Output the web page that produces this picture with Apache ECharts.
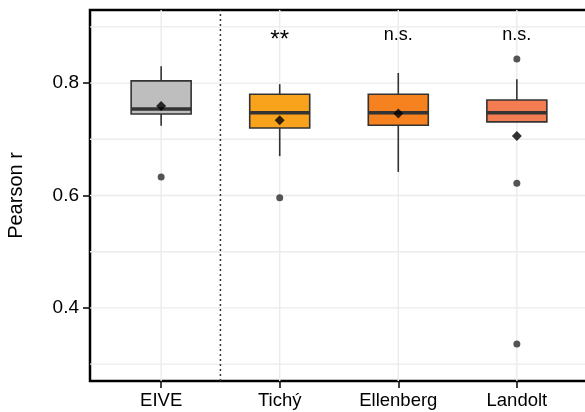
<!DOCTYPE html>
<html>
<head>
<meta charset="utf-8">
<script src="https://cdn.jsdelivr.net/npm/echarts@6/dist/echarts.min.js"></script>
<style>
html,body{margin:0;padding:0;background:#fff;}
#chart{width:585px;height:412px;}
</style>
</head>
<body>
<div id="chart"></div>
<script>
// ---- data ----
const categories = ['EIVE', 'Tichý', 'Ellenberg', 'Landolt'];
const whiskerLow  = [0.724, 0.670, 0.642, 0.731];
const q1          = [0.745, 0.720, 0.725, 0.731];
const median      = [0.754, 0.747, 0.747, 0.747];
const q3          = [0.804, 0.780, 0.780, 0.770];
const whiskerHigh = [0.830, 0.798, 0.818, 0.807];
const means       = [0.759, 0.734, 0.746, 0.706];
const outlierCat  = [0, 1, 3, 3, 3];
const outlierVal  = [0.633, 0.596, 0.843, 0.622, 0.336];
const significance = ['', '**', 'n.s.', 'n.s.'];
const yTickValues = [0.4, 0.6, 0.8];
const yGridValues = [0.3, 0.4, 0.5, 0.6, 0.7, 0.8, 0.9];
const xTickValues = [1, 2, 3, 4];
const fills = ['#BEBEBE', '#F8A31B', '#F5821F', '#F47C52'];

const FONT = "'Liberation Sans', Arial, sans-serif";
const X_MIN = 0.4, X_MAX = 4.6, Y_MIN = 0.27, Y_MAX = 0.93;

const chart = echarts.init(document.getElementById('chart'), null, {renderer: 'canvas'});

const gridData = yGridValues.map(v => ['h', v]).concat(xTickValues.map(v => ['v', v]));

const option = {
  animation: false,
  backgroundColor: '#ffffff',
  grid: {
    left: 90, top: 10, width: 498, height: 371,
    outerBoundsMode: 'none', containLabel: false,
    show: true, borderColor: '#000', borderWidth: 2.5, backgroundColor: 'transparent'
  },
  xAxis: {
    type: 'value', min: X_MIN, max: X_MAX,
    axisLine: {show: false},
    splitLine: {show: false},
    axisTick: {show: true, customValues: xTickValues, length: 7, lineStyle: {color: '#111', width: 1.6}},
    axisLabel: {
      customValues: xTickValues, margin: 10,
      fontFamily: FONT, fontSize: 18.5, color: '#000',
      formatter: v => categories[Math.round(v) - 1] || ''
    }
  },
  yAxis: {
    type: 'value', min: Y_MIN, max: Y_MAX,
    name: 'Pearson r', nameLocation: 'middle', nameGap: 64, nameRotate: 90,
    nameTextStyle: {fontFamily: FONT, fontSize: 20, color: '#000'},
    axisLine: {show: false},
    splitLine: {show: false},
    axisTick: {show: true, customValues: yTickValues, length: 7, lineStyle: {color: '#111', width: 1.6}},
    axisLabel: {
      customValues: yTickValues, margin: 11,
      fontFamily: FONT, fontSize: 19, color: '#000',
      formatter: v => v.toFixed(1)
    }
  },
  series: [
    {
      type: 'custom', silent: true, z: 0,
      data: gridData,
      encode: {x: [], y: []},
      renderItem: function (params, api) {
        const kind = gridData[params.dataIndex][0];
        const v = gridData[params.dataIndex][1];
        let p1, p2;
        if (kind === 'h') { p1 = api.coord([X_MIN, v]); p2 = api.coord([X_MAX, v]); }
        else { p1 = api.coord([v, Y_MIN]); p2 = api.coord([v, Y_MAX]); }
        return {
          type: 'line',
          shape: {x1: p1[0], y1: p1[1], x2: p2[0], y2: p2[1]},
          style: {stroke: '#EBEBEB', lineWidth: 1.4}
        };
      }
    },
    {
      type: 'custom', silent: true, z: 1,
      data: [[1.5]],
      renderItem: function (params, api) {
        const p1 = api.coord([1.5, Y_MIN]);
        const p2 = api.coord([1.5, Y_MAX]);
        return {
          type: 'line',
          shape: {x1: p1[0], y1: p1[1], x2: p2[0], y2: p2[1]},
          style: {stroke: '#333', lineWidth: 1.5, lineDash: [2, 3]}
        };
      }
    },
    {
      type: 'custom', silent: true, z: 3,
      data: categories.map((c, i) => [i + 1, whiskerLow[i], q1[i], median[i], q3[i], whiskerHigh[i]]),
      encode: {x: 0, y: [1, 2, 3, 4, 5]},
      renderItem: function (params, api) {
        const i = params.dataIndex;
        const x = i + 1;
        const half = 0.253;
        const lo = api.coord([x, whiskerLow[i]]);
        const a = api.coord([x - half, q3[i]]);
        const b = api.coord([x + half, q1[i]]);
        const hi = api.coord([x, whiskerHigh[i]]);
        const med = api.coord([x, median[i]]);
        const boxBottom = api.coord([x, q1[i]]);
        const boxTop = api.coord([x, q3[i]]);
        const stroke = '#333';
        return {
          type: 'group',
          children: [
            {type: 'line', shape: {x1: lo[0], y1: lo[1], x2: boxBottom[0], y2: boxBottom[1]}, style: {stroke: stroke, lineWidth: 1.6}},
            {type: 'line', shape: {x1: hi[0], y1: hi[1], x2: boxTop[0], y2: boxTop[1]}, style: {stroke: stroke, lineWidth: 1.6}},
            {type: 'rect', shape: {x: a[0], y: a[1], width: b[0] - a[0], height: b[1] - a[1]}, style: {fill: fills[i], stroke: stroke, lineWidth: 1.6}},
            {type: 'line', shape: {x1: a[0], y1: med[1], x2: b[0], y2: med[1]}, style: {stroke: stroke, lineWidth: 3.5}}
          ]
        };
      }
    },
    {
      type: 'scatter', z: 4, silent: true,
      symbol: 'circle', symbolSize: 7,
      itemStyle: {color: '#2b2b2b'},
      data: outlierCat.map((c, k) => [c + 1, outlierVal[k]])
    },
    {
      type: 'scatter', z: 5, silent: true,
      symbol: 'diamond', symbolSize: 10,
      itemStyle: {color: '#000'},
      data: means.map((m, i) => [i + 1, m])
    },
    {
      type: 'custom', silent: true, z: 6,
      data: significance.map((s, i) => [i + 1, 0.885]),
      encode: {x: 0, y: 1},
      renderItem: function (params, api) {
        const i = params.dataIndex;
        const s = significance[i];
        const p = api.coord([i + 1, 0.885]);
        const stars = s.indexOf('*') >= 0;
        return {
          type: 'text',
          x: p[0], y: stars ? p[1] + 5 : p[1],
          style: {
            text: s, fill: '#000',
            font: (stars ? '24px ' : '18px ') + FONT,
            align: 'center', verticalAlign: 'middle'
          }
        };
      }
    }
  ]
};
chart.setOption(option);
</script>
</body>
</html>
